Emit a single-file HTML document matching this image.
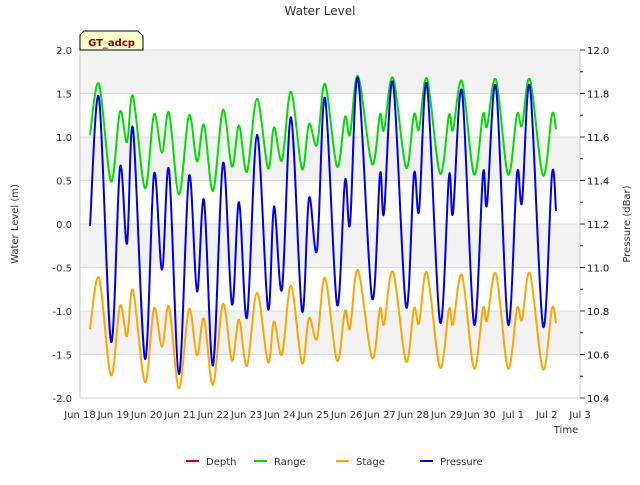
<!DOCTYPE html>
<html><head><meta charset="utf-8"><style>
body{margin:0;background:#fff}
svg{font-family:"DejaVu Sans","Liberation Sans",sans-serif}
</style></head><body>
<svg id="chart" width="640" height="480" viewBox="0 0 640 480" xmlns="http://www.w3.org/2000/svg">
<rect x="0" y="0" width="640" height="480" fill="#fff"/>
<text x="320" y="15" text-anchor="middle" font-size="12" fill="#333">Water Level</text>
<g id="bands"></g>
<g id="grid"></g>
<g id="series"></g>
<g id="axes"></g>
<g>
<path d="M80,50 L80,35 L84,31 L138,31 L143,36 L143,50 Z" fill="#ffffcc" stroke="#000" stroke-width="1"/>
<text x="111.5" y="46" text-anchor="middle" font-size="10" font-weight="bold" fill="#8b0000">GT_adcp</text>
</g>
<text transform="translate(18,224) rotate(-90)" text-anchor="middle" font-size="10" fill="#333">Water Level (m)</text>
<text transform="translate(630,224) rotate(-90)" text-anchor="middle" font-size="10" fill="#333">Pressure (dBar)</text>
<text x="566" y="433" text-anchor="middle" font-size="10" fill="#333">Time</text>
<g id="legend"></g>
</svg>
<script>
const NS="http://www.w3.org/2000/svg";
const xTickLabels=["Jun 18","Jun 19","Jun 20","Jun 21","Jun 22","Jun 23","Jun 24","Jun 25","Jun 26","Jun 27","Jun 28","Jun 29","Jun 30","Jul 1","Jul 2","Jul 3"];
const yTicks=[-2.0,-1.5,-1.0,-0.5,0.0,0.5,1.0,1.5,2.0];
const y2Ticks=[10.4,10.6,10.8,11.0,11.2,11.4,11.6,11.8,12.0];
// time in days since Jun 18 00:00
const times=[0.30,0.57,0.93,1.20,1.41,1.59,1.95,2.22,2.46,2.67,2.97,3.27,3.51,3.72,3.99,4.29,4.56,4.77,5.01,5.31,5.64,5.82,6.06,6.33,6.66,6.87,7.11,7.35,7.71,7.95,8.10,8.34,8.76,9.00,9.12,9.39,9.78,10.02,10.17,10.41,10.80,11.07,11.19,11.46,11.82,12.09,12.21,12.48,12.84,13.11,13.26,13.50,13.89,14.16,14.28];
const pressure=[11.19,11.78,10.66,11.46,11.11,11.64,10.58,11.43,10.99,11.45,10.51,11.42,10.89,11.31,10.55,11.48,10.83,11.30,10.77,11.61,10.81,11.28,10.90,11.69,10.80,11.32,11.08,11.78,10.83,11.40,11.20,11.87,10.86,11.43,11.25,11.85,10.82,11.43,11.26,11.84,10.75,11.42,11.25,11.81,10.74,11.43,11.29,11.83,10.74,11.43,11.30,11.83,10.73,11.43,11.26];
const stage=[-1.21,-0.62,-1.74,-0.94,-1.29,-0.76,-1.82,-0.97,-1.41,-0.95,-1.89,-0.98,-1.51,-1.09,-1.85,-0.92,-1.57,-1.10,-1.63,-0.79,-1.59,-1.12,-1.50,-0.71,-1.60,-1.08,-1.32,-0.62,-1.57,-1.00,-1.20,-0.53,-1.54,-0.97,-1.15,-0.55,-1.58,-0.97,-1.14,-0.56,-1.65,-0.98,-1.15,-0.59,-1.66,-0.97,-1.11,-0.57,-1.66,-0.97,-1.10,-0.57,-1.67,-0.97,-1.14];
const range=[1.02,1.61,0.49,1.29,0.94,1.47,0.41,1.26,0.82,1.28,0.34,1.25,0.72,1.14,0.38,1.31,0.66,1.13,0.60,1.44,0.64,1.11,0.73,1.52,0.63,1.15,0.91,1.61,0.66,1.23,1.03,1.70,0.69,1.26,1.08,1.68,0.65,1.26,1.09,1.67,0.58,1.25,1.08,1.64,0.57,1.26,1.12,1.66,0.57,1.26,1.13,1.66,0.56,1.26,1.09];
const legendNames=["Depth","Range","Stage","Pressure"];
const legendColors=["#e00000","#00dd00","#ffa500","#0000ee"];

const PL=80,PR=580,PT=50,PB=398;
const xs=d=>PL+d*(PR-PL)/15;
const ys=v=>PB-(v+2)*(PB-PT)/4;
const y2s=v=>PB-(v-10.4)*(PB-PT)/1.6;
function mk(tag,attrs,parent){const e=document.createElementNS(NS,tag);for(const k in attrs)e.setAttribute(k,attrs[k]);parent.appendChild(e);return e;}
const bands=document.getElementById('bands'),grid=document.getElementById('grid'),axes=document.getElementById('axes'),ser=document.getElementById('series'),leg=document.getElementById('legend');
mk('rect',{x:PL,y:PT,width:PR-PL,height:PB-PT,fill:'#fff'},bands);
for(let i=0;i<yTicks.length-1;i++){
  if(i%2===1){const r=mk('rect',{x:PL,y:ys(yTicks[i+1]),width:PR-PL,height:ys(yTicks[i])-ys(yTicks[i+1]),fill:'#f2f2f2'},bands);
  
  }
}
yTicks.forEach(v=>{
  const l=mk('line',{x1:PL,x2:PR,y1:ys(v),y2:ys(v),stroke:'#dcdcdc','stroke-width':1},grid);
  
  
  const t=mk('text',{x:PL-8,y:ys(v)+4,'text-anchor':'end','font-size':10,fill:'#333'},axes);
  t.textContent=v.toFixed(1);
  
  
});
mk('line',{x1:PL,x2:PL,y1:PT,y2:PB,stroke:'#ccc'},axes);
mk('line',{x1:PR,x2:PR,y1:PT,y2:PB,stroke:'#ccc'},axes);
mk('line',{x1:PL,x2:PR,y1:PB,y2:PB,stroke:'#ccc'},axes);
y2Ticks.forEach((v,i)=>{
  mk('line',{x1:PR,x2:PR+5,y1:y2s(v),y2:y2s(v),stroke:'#333'},axes);
  if(i<y2Ticks.length-1)mk('line',{x1:PR,x2:PR+3,y1:y2s(v+0.1),y2:y2s(v+0.1),stroke:'#333'},axes);
  const t=mk('text',{x:PR+7,y:y2s(v)+4,'font-size':10,fill:'#111'},axes);
  t.textContent=v.toFixed(1);
  
  
});
xTickLabels.forEach((s,i)=>{
  const t=mk('text',{x:xs(i),y:418,'text-anchor':'middle','font-size':10,fill:'#333'},axes);
  t.textContent=s;
  
  
});
function pathFor(vals,scale){
  const p=times.map((t,i)=>[xs(t),scale(vals[i])]);
  let d='M'+p[0][0].toFixed(1)+','+p[0][1].toFixed(1);
  for(let i=0;i<p.length-1;i++){
    const p0=p[Math.max(0,i-1)],p1=p[i],p2=p[i+1],p3=p[Math.min(p.length-1,i+2)];
    const c1=[p1[0]+(p2[0]-p0[0])/6,p1[1]+(p2[1]-p0[1])/6];
    const c2=[p2[0]-(p3[0]-p1[0])/6,p2[1]-(p3[1]-p1[1])/6];
    d+=' C'+c1.map(n=>n.toFixed(1)).join(',')+' '+c2.map(n=>n.toFixed(1)).join(',')+' '+p2[0].toFixed(1)+','+p2[1].toFixed(1);
  }
  return d;
}
const rp=mk('path',{d:pathFor(range,ys),fill:'none',stroke:'#00dd00','stroke-width':2},ser);


const sp=mk('path',{d:pathFor(stage,ys),fill:'none',stroke:'#ffa500','stroke-width':2},ser);


const pp=mk('path',{d:pathFor(pressure,y2s),fill:'none',stroke:'#0000ee','stroke-width':2},ser);


const lx=[186,254,336,420];
legendNames.forEach((n,i)=>{
  const g=mk('g',{},leg);
  
  
  mk('line',{x1:lx[i],x2:lx[i]+13,y1:461,y2:461,stroke:legendColors[i],'stroke-width':2},g);
  const t=mk('text',{x:lx[i]+20,y:465,'font-size':10,fill:'#333'},g);
  t.textContent=n;
});
</script>
</body></html>
